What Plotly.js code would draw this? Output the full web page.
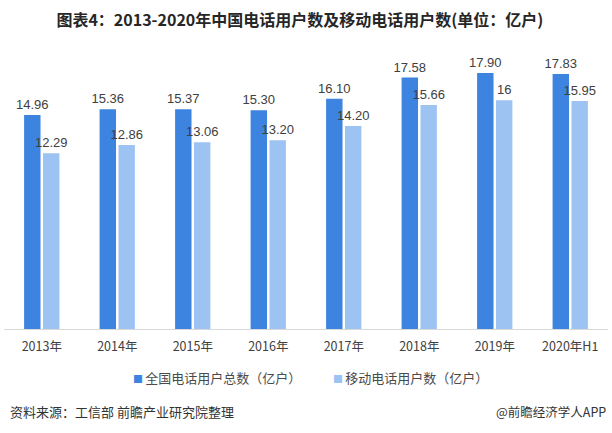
<!DOCTYPE html>
<html>
<head>
<meta charset="utf-8">
<script src="https://cdn.plot.ly/plotly-3.0.1.min.js"></script>
<style>
html,body{margin:0;padding:0;background:#fff;}
#chart{width:612px;height:433px;}
</style>
</head>
<body>
<div id="chart"></div>
<script>
const categories = ["2013年","2014年","2015年","2016年","2017年","2018年","2019年","2020年H1"];
const totalUsers = [14.96, 15.36, 15.37, 15.30, 16.10, 17.58, 17.90, 17.83];
const mobileUsers = [12.29, 12.86, 13.06, 13.20, 14.20, 15.66, 16, 15.95];
const totalLabels = ["14.96","15.36","15.37","15.30","16.10","17.58","17.90","17.83"];
const mobileLabels = ["12.29","12.86","13.06","13.20","14.20","15.66","16","15.95"];
const seriesNames = ["全国电话用户总数（亿户）","移动电话用户数（亿户）"];
const colors = ["#3D83E0","#9DC3F3"];

const cjk = '"Noto Sans CJK SC", "Noto Sans", sans-serif';
const labelFont = {family: '"Liberation Sans", Arial, sans-serif', size: 13, color: '#404040'};

const traces = [
  {type:'bar', x:categories, y:totalUsers, name:seriesNames[0], text:totalLabels, textposition:'outside',
   constraintext:'none', textfont:labelFont, marker:{color:colors[0]}, showlegend:false, cliponaxis:false, hoverinfo:'skip'},
  {type:'bar', x:categories, y:mobileUsers, name:seriesNames[1], text:mobileLabels, textposition:'outside',
   constraintext:'none', textfont:labelFont, marker:{color:colors[1]}, showlegend:false, cliponaxis:false, hoverinfo:'skip'}
];

const legendFont = {family:cjk, size:13, color:'#4a4a4a'};
const legendY = -0.168;

const layout = {
  width:612, height:433,
  margin:{l:4, r:4, t:43, b:104},
  paper_bgcolor:'#fff', plot_bgcolor:'#fff',
  barmode:'group', bargap:0.5, bargroupgap:0.13,
  showlegend:false,
  title:{text:'图表4：2013-2020年中国电话用户数及移动电话用户数(单位：亿户)',
    font:{family:cjk, size:16, color:'#262626', weight:'bold'},
    x:0.49, xref:'container', xanchor:'center', y:0.953, yref:'container', yanchor:'middle'},
  xaxis:{type:'category', showline:true, linecolor:'#D9D9D9', linewidth:1, ticks:'',
    tickfont:{family:cjk, size:12.5, color:'#404040'}, showgrid:false, zeroline:false,
    ticklabelstandoff:6},
  yaxis:{range:[0,20], visible:false, showgrid:false, zeroline:false},
  annotations:[
    {text:'<span style="color:'+colors[0]+';font-size:10px">■ </span>'+seriesNames[0], xref:'paper', yref:'paper',
     x:(131-4)/604, y:legendY, xanchor:'left', yanchor:'middle', showarrow:false, font:legendFont},
    {text:'<span style="color:'+colors[1]+';font-size:10px">■ </span>'+seriesNames[1], xref:'paper', yref:'paper',
     x:(331-4)/604, y:legendY, xanchor:'left', yanchor:'middle', showarrow:false, font:legendFont},
    {text:'资料来源：工信部 前瞻产业研究院整理', xref:'paper', yref:'paper', x:0.0066, y:-0.287,
     xanchor:'left', yanchor:'middle', showarrow:false, font:{family:cjk, size:13, color:'#333333'}},
    {text:'@前瞻经济学人APP', xref:'paper', yref:'paper', x:1.0, y:-0.287,
     xanchor:'right', yanchor:'middle', showarrow:false, font:{family:cjk, size:12.5, color:'#333333'}}
  ]
};

Plotly.newPlot('chart', traces, layout, {displayModeBar:false, staticPlot:true});
</script>
</body>
</html>
